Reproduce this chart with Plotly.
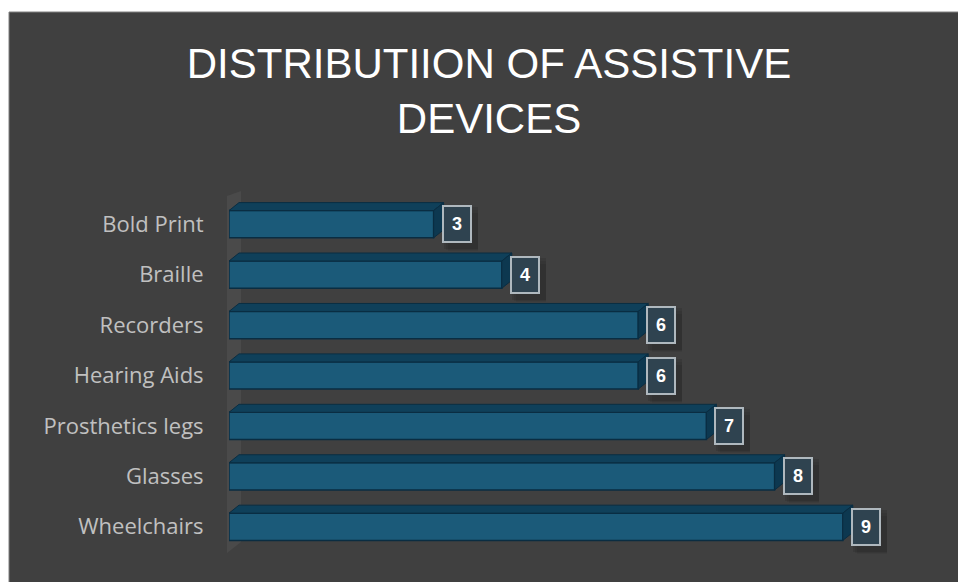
import plotly.graph_objects as go

categories = ["Bold Print", "Braille", "Recorders", "Hearing Aids",
              "Prosthetics legs", "Glasses", "Wheelchairs"]
values = [3, 4, 6, 6, 7, 8, 9]
title_text = "DISTRIBUTIION OF ASSISTIVE<br>DEVICES"

W, H = 958, 582
ML, MR, MT, MB = 229, 47, 199, 30
XMAX = 10
BAR_W = 0.54
PW = W - ML - MR
PH = H - MT - MB
px_x = PW / XMAX
px_y = PH / len(categories)
DX = 10 / px_x          # depth offset in data units (x)
DY = 8 / px_y           # depth offset in data units (y)

FRONT = "rgb(27,90,121)"
TOP = "rgb(15,64,90)"
SIDE = "rgb(13,56,80)"
EDGE = "rgb(10,45,66)"

ypos = list(range(len(categories)))
fig = go.Figure()

# 3D top & side faces computed from values
for i, v in zip(ypos, values):
    t = i - BAR_W / 2
    b = i + BAR_W / 2
    fig.add_trace(go.Scatter(
        x=[0, v, v + DX, DX, 0], y=[t, t, t - DY, t - DY, t],
        fill="toself", fillcolor=TOP, mode="lines",
        line=dict(color=EDGE, width=1), hoverinfo="skip", showlegend=False))
    fig.add_trace(go.Scatter(
        x=[v, v + DX, v + DX, v, v], y=[t, t - DY, b - DY, b, t],
        fill="toself", fillcolor=SIDE, mode="lines",
        line=dict(color=EDGE, width=1), hoverinfo="skip", showlegend=False))

fig.add_trace(go.Bar(
    x=values, y=ypos, orientation="h", width=BAR_W,
    marker=dict(color=FRONT, line=dict(color=EDGE, width=1.5)),
    hoverinfo="x+y", showlegend=False))

# value labels (with soft shadow layers)
for i, v in zip(ypos, values):
    for k, a in ((14, 0.06), (12, 0.08), (10, 0.10)):
        fig.add_annotation(
            x=v, y=i, xref="x", yref="y", xanchor="left", yanchor="middle",
            xshift=k, yshift=-(k - 6), text="", showarrow=False,
            width=30 + (14 - k), height=38 + (14 - k),
            bgcolor=f"rgba(0,0,0,{a})", borderwidth=0, borderpad=0)
    fig.add_annotation(
        x=v, y=i, xref="x", yref="y", xanchor="left", yanchor="middle",
        xshift=8, text=f"<b>{v}</b>", showarrow=False,
        font=dict(family="Liberation Sans, Arial", size=18, color="white"),
        width=26, height=34, bgcolor="rgb(47,67,80)",
        bordercolor="rgb(175,184,190)", borderwidth=2, borderpad=0)

# background panel with thin border
fig.add_shape(type="rect", xref="paper", yref="paper",
              x0=(9 - ML) / PW, x1=(W + 5 - ML) / PW,
              y0=(-5 - MB) / PH, y1=(H - 12 - MB) / PH,
              fillcolor="#404040", line=dict(color="#808080", width=1), layer="below")
# back wall strip
fig.add_shape(type="path", xref="paper", yref="paper", layer="below",
              path="M {a},{b} L {c},{d} L {c},{e} L {a},{f} Z".format(
                  a=(227 - ML) / PW, c=(241 - ML) / PW,
                  b=(H - 553 - MB) / PH, d=(H - 542 - MB) / PH,
                  e=(H - 191 - MB) / PH, f=(H - 196 - MB) / PH),
              fillcolor="#4a4a4a", line=dict(width=0))

fig.update_layout(
    width=W, height=H,
    margin=dict(l=ML, r=MR, t=MT, b=MB),
    paper_bgcolor="white", plot_bgcolor="rgba(0,0,0,0)",
    title=dict(text=title_text, x=489 / W, xanchor="center", xref="container",
               y=1 - 78 / H, yanchor="top", yref="container",
               font=dict(family="Liberation Sans, Arial", size=42, color="white")),
    xaxis=dict(range=[0, XMAX], visible=False, fixedrange=True),
    yaxis=dict(range=[len(categories) - 0.5, -0.5], tickmode="array",
               tickvals=ypos, ticktext=categories, showgrid=False, zeroline=False,
               ticks="outside", ticklen=20, tickcolor="rgba(0,0,0,0)",
               tickfont=dict(family="Open Sans", size=22, color="#c0c0c0"),
               fixedrange=True),
    bargap=0.4,
)

fig.write_html("out.html")
